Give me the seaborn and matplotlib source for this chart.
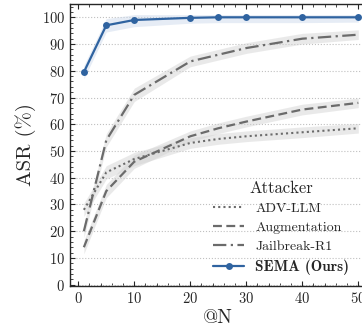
import numpy as np
import pandas as pd
import seaborn as sns
import matplotlib.pyplot as plt
from matplotlib.ticker import MultipleLocator

# data
n_values = [1, 5, 10, 20, 25, 30, 40, 50]
attackers = ['ADV-LLM', 'Augmentation', 'Jailbreak-R1', 'SEMA (Ours)']
adv_llm = [28, 42, 47, 53, 54.5, 55.5, 57, 58.5]
augmentation = [14, 35, 46, 55.5, 58.5, 61, 65.5, 68]
jailbreak_r1 = [20, 54, 71, 83.5, 86, 88.5, 92, 93.5]
sema = [79.5, 97, 99, 99.8, 100, 100, 100, 100]
band_half = [2.5, 2.5, 2.5, 2, 2, 2, 2, 1.8]

sns.set_style('ticks')
plt.rcParams['font.family'] = ['cmr10', 'DejaVu Serif']
plt.rcParams['mathtext.fontset'] = 'cm'
plt.rcParams['axes.formatter.use_mathtext'] = True

df = pd.DataFrame({
    'N': n_values * 4,
    'ASR': adv_llm + augmentation + jailbreak_r1 + sema,
    'Attacker': sum([[a] * len(n_values) for a in attackers], []),
})

GRAY = '#6b6b6b'
BLUE = '#2f63a0'
palette = {'ADV-LLM': GRAY, 'Augmentation': GRAY, 'Jailbreak-R1': GRAY, 'SEMA (Ours)': BLUE}
styles = {'ADV-LLM': (0, (1, 1.5)), 'Augmentation': (0, (4, 2)),
          'Jailbreak-R1': (0, (6, 2, 1, 2)), 'SEMA (Ours)': '-'}

fig = plt.figure(figsize=(3.62, 3.28), dpi=100)
ax = fig.add_axes([0.193, 0.128, 0.82, 0.86])

series = {'ADV-LLM': adv_llm, 'Augmentation': augmentation,
          'Jailbreak-R1': jailbreak_r1, 'SEMA (Ours)': sema}
for name, vals in series.items():
    v = np.array(vals)
    h = np.array(band_half)
    ax.fill_between(n_values, v - h, np.minimum(v + h, 101),
                    color='#d0d0d0' if name != 'SEMA (Ours)' else '#c8d6ea',
                    alpha=0.45, lw=0, zorder=1)
    sub = df[df['Attacker'] == name]
    sns.lineplot(data=sub, x='N', y='ASR', ax=ax, color=palette[name],
                 linestyle=styles[name], lw=1.6 if name != 'ADV-LLM' else 1.5,
                 marker='o' if name == 'SEMA (Ours)' else None, markersize=5,
                 markeredgewidth=0, label=name, zorder=3)

ax.set_xlim(-1.5, 51.5)
ax.set_ylim(-0.5, 105)
ax.xaxis.set_major_locator(MultipleLocator(10))
ax.xaxis.set_minor_locator(MultipleLocator(2))
ax.yaxis.set_major_locator(MultipleLocator(10))
ax.yaxis.set_minor_locator(MultipleLocator(2))
ax.tick_params(which='both', direction='in', top=True, right=True, labelsize=10.5)
ax.tick_params(which='major', length=3.5, width=0.8)
ax.tick_params(which='minor', length=2, width=0.6)
ax.grid(axis='y', linestyle=':', color='#c0c0c0', lw=0.8)
for s in ax.spines.values():
    s.set_linewidth(1.0)
ax.set_xlabel('@N', fontsize=14, labelpad=2)
ax.set_ylabel('ASR (%)', fontsize=15, labelpad=4)

leg = ax.legend(title='Attacker', frameon=False, loc='lower left',
                bbox_to_anchor=(0.465, 0.02), borderaxespad=0,
                fontsize=10, title_fontsize=12,
                handlelength=2.2, handletextpad=0.8, labelspacing=0.45)
bold = leg.get_texts()[3]
bold.set_fontfamily(['cmb10', 'DejaVu Serif'])
bold.set_fontsize(11)

fig.savefig('out.png', dpi=100)
